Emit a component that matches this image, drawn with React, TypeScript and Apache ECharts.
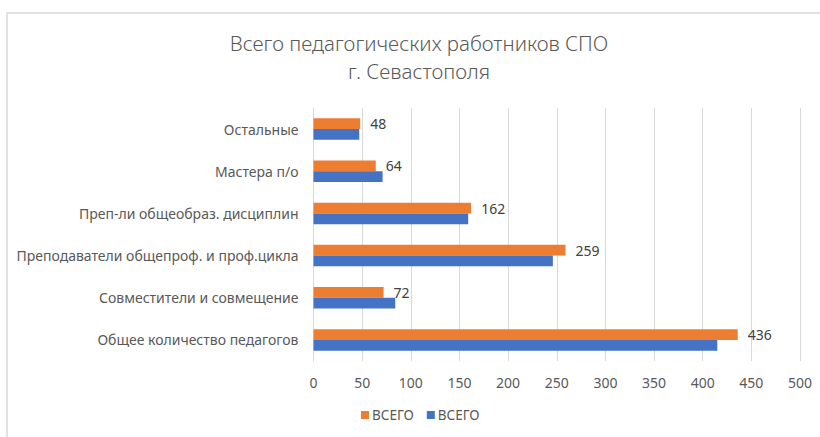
import React, { useEffect, useRef } from "react";
import * as echarts from "echarts";

const categories = [
  "Общее количество педагогов",
  "Совместители и совмещение",
  "Преподаватели общепроф. и проф.цикла",
  "Преп-ли общеобраз. дисциплин",
  "Мастера п/о",
  "Остальные",
];
const orangeValues = [436, 72, 259, 162, 64, 48];
const blueValues = [415, 84, 246, 159, 71, 47];
const seriesNames = ["ВСЕГО", "ВСЕГО "];
const titleLines = ["Всего педагогических работников СПО", "г. Севастополя"];
const FONT = "Noto Sans";

export default function App() {
  const ref = useRef<HTMLDivElement>(null);
  useEffect(() => {
    if (!ref.current) return;
    const chart = echarts.init(ref.current, undefined, { renderer: "svg" });
    const titleStyle = {
      fontFamily: FONT,
      fontSize: 20.5,
      lineHeight: 28,
      fontWeight: 300,
      color: "#595959",
    };
    chart.setOption({
      animation: false,
      backgroundColor: "#ffffff",
      textStyle: { fontFamily: FONT },
      title: {
        text: titleLines[0],
        subtext: titleLines[1],
        left: 419,
        textAlign: "center",
        top: 29,
        padding: 0,
        itemGap: 0,
        textStyle: titleStyle,
        subtextStyle: titleStyle,
      },
      graphic: [
        {
          type: "rect",
          shape: { x: 7, y: 13, width: 900, height: 600 },
          style: { fill: "none", stroke: "#d9d9d9", lineWidth: 1.5 },
          silent: true,
          z: -1,
        },
      ],
      legend: {
        data: [seriesNames[0], seriesNames[1]],
        left: 361,
        top: 408,
        padding: 0,
        itemWidth: 8,
        itemHeight: 8,
        itemGap: 13,
        icon: "rect",
        formatter: (n: string) => n.trim(),
        textStyle: { fontFamily: FONT, fontSize: 13.5, color: "#595959", padding: [0, 0, 0, -2] },
      },
      grid: { left: 313.5, right: 20, top: 108, bottom: 76, containLabel: false },
      xAxis: {
        type: "value",
        min: 0,
        max: 500,
        interval: 50,
        axisLine: { show: false },
        axisTick: { show: false },
        splitLine: { lineStyle: { color: "#d9d9d9", width: 1 } },
        axisLabel: { color: "#595959", fontSize: 14, margin: 14, fontFamily: FONT },
      },
      yAxis: {
        type: "category",
        data: categories,
        axisLine: { show: true, lineStyle: { color: "#d9d9d9" } },
        axisTick: { show: false },
        axisLabel: { color: "#595959", fontSize: 14, margin: 15, fontFamily: FONT },
      },
      series: [
        {
          name: seriesNames[0],
          type: "bar",
          data: orangeValues,
          itemStyle: { color: "#ED7D31" },
          barGap: "0%",
          barCategoryGap: "49%",
          label: {
            show: true,
            position: "right",
            distance: 10,
            color: "#404040",
            fontSize: 14,
            fontFamily: FONT,
          },
        },
        {
          name: seriesNames[1],
          type: "bar",
          data: blueValues,
          itemStyle: { color: "#4472C4" },
          barGap: "0%",
          barCategoryGap: "49%",
        },
      ],
    });
    return () => chart.dispose();
  }, []);
  return (
    <div
      ref={ref}
      style={{ position: "fixed", left: 0, top: 0, width: 820, height: 437 }}
    />
  );
}
